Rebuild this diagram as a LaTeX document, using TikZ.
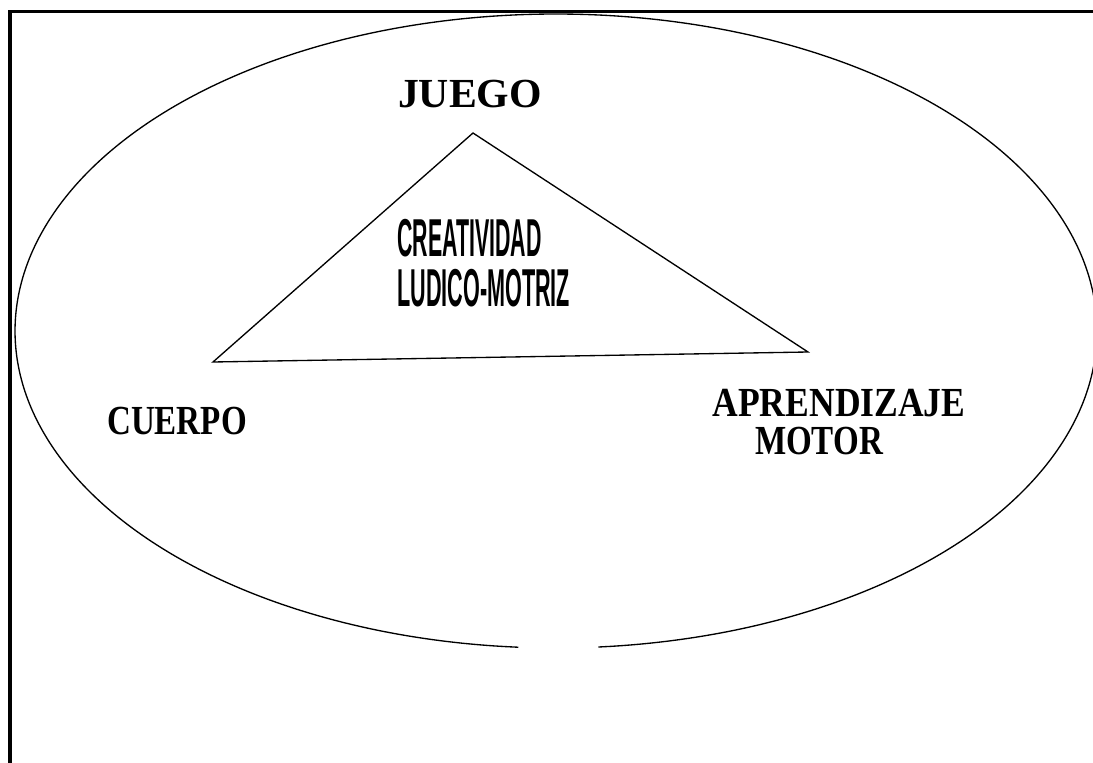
\documentclass[tikz,border=0pt]{standalone}
\usepackage{fontspec}
\newfontfamily\decofont{Liberation Serif}
\newfontfamily\condfont{Liberation Sans}
\usetikzlibrary{positioning}

\begin{document}
\begin{tikzpicture}[x=0.75pt, y=-0.75pt,
        deco/.style={inner sep=0pt, anchor=base, font=\decofont\bfseries\fontsize{31}{33}\selectfont},
        cond/.style={inner sep=0pt, anchor=west, font=\condfont\bfseries\fontsize{40}{42}\selectfont},
        rim/.style={line width=1pt, black},
        tri/.style={line width=1pt, black, line join=miter}
      ]
        \useasboundingbox (0,0) rectangle (1093,763);
        % frame, open at bottom and right
        \draw[line width=2.5pt] (10,763) -- (10,11.5) -- (1093,11.5);

        % big ellipse with a gap at the bottom
        \coordinate (mid) at (556,331);
        \draw[rim] plot[domain=94:445.5, samples=240, smooth]
              ({556+541*cos(\x)}, {331+317*sin(\x)});

        % triangle
        \coordinate (tj) at (473,133);
        \coordinate (tc) at (213,362);
        \coordinate (ta) at (808,352);
        \draw[tri] (tj) -- (ta) -- (tc) -- cycle;

        \node[deco] (juego)  at (470,108) {\scalebox{1.01}[1]{JUEGO}};
        \node[deco] (cuerpo) at (177,434) {\scalebox{0.80}[1]{CUERPO}};
        \node[deco] (aprend) at (839,416) {\scalebox{0.86}[1]{APRENDIZAJE}};
        \node[deco] (motor)  at (819,454) {\scalebox{0.80}[1]{MOTOR}};

        \node[cond] (crea) at (397,238) {\scalebox{0.40}[1]{CREATIVIDAD}};
        \node[cond] (ludi) at (397,288) {\scalebox{0.405}[1]{LUDICO-MOTRIZ}};
      \end{tikzpicture}
\end{document}
